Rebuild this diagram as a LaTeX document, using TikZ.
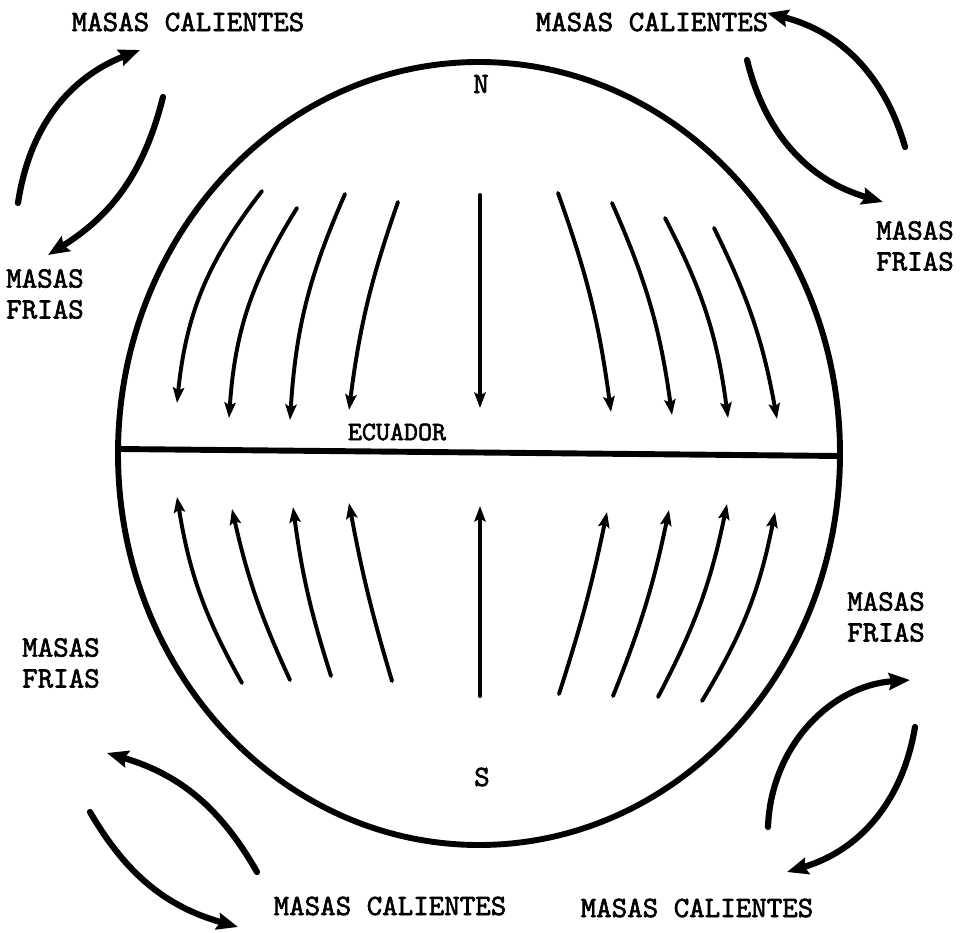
\documentclass[tikz,border=0pt]{standalone}
\usepackage{fontspec}
\newfontfamily\maquina[FakeBold=2]{lmmono10-regular.otf}
\usetikzlibrary{arrows.meta}

\begin{document}
\begin{tikzpicture}[
    x=0.025cm, y=-0.025cm,
    every node/.style={align=center, inner sep=0pt, font=\maquina\fontsize{21}{22}\selectfont},
    meridiano/.style={line width=2.8pt, line cap=round, -{Stealth[length=11pt, width=8pt, inset=2pt]}},
    corriente/.style={line width=4.4pt, line cap=round, -{Stealth[length=15pt, width=12pt, inset=2pt]}},
    borde/.style={line width=4.2pt}
]
    \useasboundingbox (0,0) rectangle (960,933);

    % globo y ecuador
    \coordinate (centro) at (479,453.5);
    \coordinate (ecO) at (119,449);
    \coordinate (ecE) at (840,456);
    \draw[borde] (centro) ellipse [x radius=361, y radius=391.5];
    \draw[borde] (ecO) -- (ecE);

    \node (norte) at (481,84) {N};
    \node (sur) at (482,777) {S};
    \node[font=\maquina\fontsize{19}{22}\selectfont] (ecuador) at (397,432) {ECUADOR};

    % hemisferio norte
    \foreach \xa/\ya/\xb/\yb/\curva in {262/191/177/403/16, 297/208/229/418/14, 345/194/290/420/10, 398/202/349/410/6}
        \draw[meridiano] (\xa,\ya) to[bend right=\curva] (\xb,\yb);
    \draw[meridiano] (480,195) -- (480,408);
    \foreach \xa/\ya/\xb/\yb/\curva in {558/193/611/412/6, 612/203/672/415/8, 665/218/728/418/10, 714/228/777/419/8}
        \draw[meridiano] (\xa,\ya) to[bend left=\curva] (\xb,\yb);

    % hemisferio sur
    \foreach \xa/\ya/\xb/\yb/\curva in {242/683/177/497/10, 290/680/232/509/6, 331/676/293/507/5, 392/681/349/503/3}
        \draw[meridiano] (\xa,\ya) to[bend left=\curva] (\xb,\yb);
    \draw[meridiano] (480,696) -- (480,506);
    \foreach \xa/\ya/\xb/\yb/\curva in {559/694/607/512/3, 613/696/669/510/5, 658/697/727/504/8, 702/701/775/512/10}
        \draw[meridiano] (\xa,\ya) to[bend right=\curva] (\xb,\yb);

    % masas de aire
    \node (calNO) at (188,22) {MASAS CALIENTES};
    \node (calNE) at (652,22) {MASAS CALIENTES};
    \node (calSO) at (390,906) {MASAS CALIENTES};
    \node (calSE) at (697,908) {MASAS CALIENTES};
    \node (friasNO) at (45,294) {MASAS\\FRIAS};
    \node (friasNE) at (915,246) {MASAS\\FRIAS};
    \node (friasSO) at (61,663) {MASAS\\FRIAS};
    \node (friasSE) at (886,617) {MASAS\\FRIAS};

    % corrientes
    \draw[corriente] (18,203) to[bend left=30] (140,50);
    \draw[corriente] (163,97) to[bend left=22] (48,255);
    \draw[corriente] (905,147) to[bend right=30] (767,13);
    \draw[corriente] (747,60) to[bend right=30] (883,202);
    \draw[corriente] (257,872) to[bend right=22] (107,753);
    \draw[corriente] (90,812) to[bend right=22] (238,927);
    \draw[corriente] (768,827) to[bend left=42] (910,680);
    \draw[corriente] (915,727) to[bend left=32] (787,872);
\end{tikzpicture}
\end{document}
